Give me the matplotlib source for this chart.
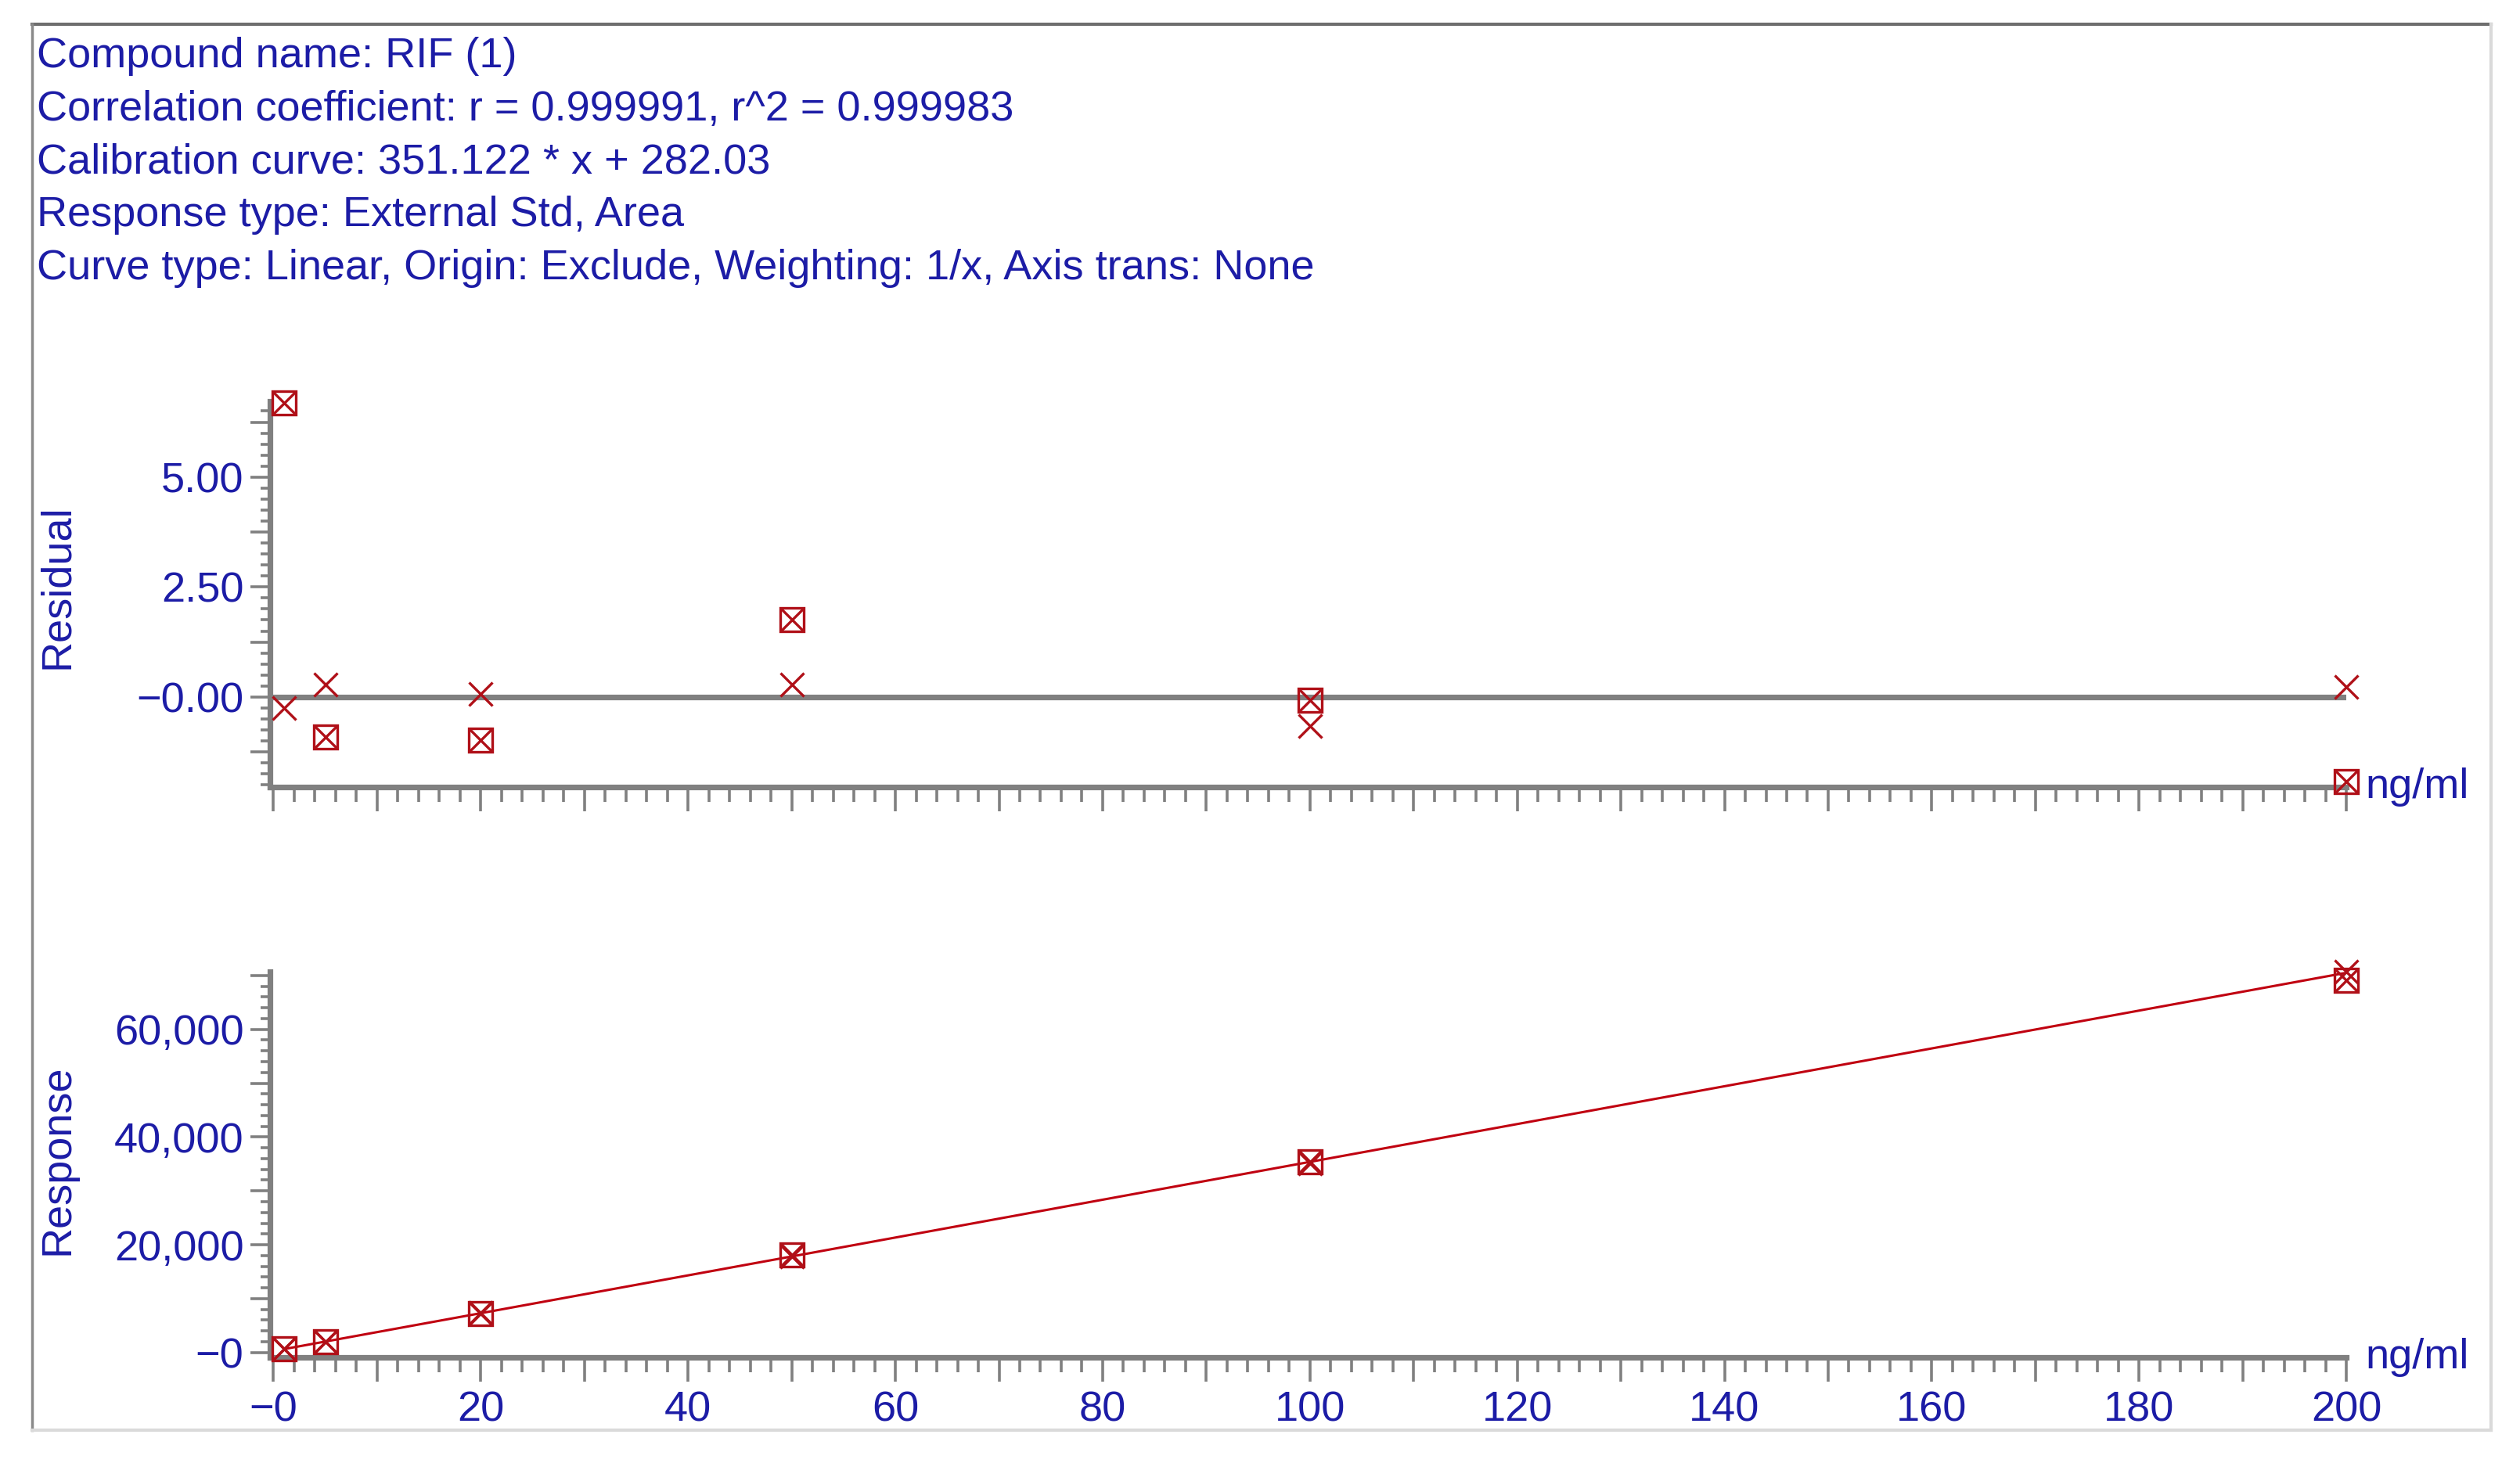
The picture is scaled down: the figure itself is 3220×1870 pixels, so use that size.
import matplotlib
matplotlib.use("Agg")
import matplotlib.pyplot as plt
from matplotlib.lines import Line2D
from matplotlib.ticker import MultipleLocator, FuncFormatter

plt.rcParams['font.family'] = ['Liberation Sans', 'DejaVu Sans']

# header text
header = ["Compound name: RIF (1)",
          "Correlation coefficient: r = 0.999991, r^2 = 0.999983",
          "Calibration curve: 351.122 * x + 282.03",
          "Response type: External Std, Area",
          "Curve type: Linear, Origin: Exclude, Weighting: 1/x, Axis trans: None"]
slope = 351.122
intercept = 282.03

# standards (ng/ml), two injections each
conc = [1, 5, 20, 50, 100, 200]
resid_a = [6.68, -0.91, -0.99, 1.75, -0.07, -1.93]    # boxed-x markers
resid_b = [-0.26, 0.29, 0.07, 0.29, -0.66, 0.22]      # plain x markers
resp_a = [657, 2022, 7235, 18145, 35370, 69151]
resp_b = [632, 2043, 7309, 17889, 35162, 70661]

blue = '#1c1ca6'
red = '#b01018'
gray = '#808080'
fs = 39
ms = 21
mew = 2.4

fig = plt.figure(figsize=(32.2, 18.7), dpi=100)

# sunken panel frame
l, r, b, t = 41/3220, 3183/3220, 1 - 1828/1870, 1 - 31/1870
fig.add_artist(Line2D([l, r], [t, t], color='#6e6e6e', lw=3))
fig.add_artist(Line2D([l, l], [b, t], color='#8a8a8a', lw=2.5))
fig.add_artist(Line2D([r, r], [b, t], color='#dadada', lw=3))
fig.add_artist(Line2D([l, r], [b, b], color='#dadada', lw=3))

for i, s in enumerate(header):
    fig.text(47/3220, 0.9615 - i*0.03625, s, color=blue, fontsize=fs, va='center', ha='left')


def style(ax, labels_x):
    for sp in ['top', 'right']:
        ax.spines[sp].set_visible(False)
    for sp in ['left', 'bottom']:
        ax.spines[sp].set_color(gray)
        ax.spines[sp].set_linewidth(5.2)
    ax.xaxis.set_major_locator(MultipleLocator(10))
    ax.xaxis.set_minor_locator(MultipleLocator(2))
    ax.tick_params(axis='both', which='both', color=gray, width=2.6)
    ax.tick_params(axis='both', which='major', labelcolor=blue, labelsize=fs)
    ax.tick_params(axis='x', which='major', length=22.5, pad=8)
    ax.tick_params(axis='x', which='minor', length=13.5)
    ax.tick_params(axis='y', which='major', length=18, pad=6)
    ax.tick_params(axis='y', which='minor', length=8.5)
    if labels_x:
        ax.xaxis.set_major_formatter(FuncFormatter(
            lambda v, p: ('\u22120' if abs(v) < 1e-9 else '%d' % v) if round(v) % 20 == 0 else ''))
    else:
        ax.xaxis.set_major_formatter(FuncFormatter(lambda v, p: ''))
    ax.set_xlim(-0.35, 200)
    ax.text(1.009, 0.0, 'ng/ml', transform=ax.transAxes, color=blue, fontsize=fs,
            ha='left', va='center')


def markers(ax, ya, yb):
    ax.plot(conc, ya, ls='none', marker='s', ms=ms, mfc='none', mec=red, mew=mew, clip_on=False, zorder=5)
    ax.plot(conc, ya, ls='none', marker='x', ms=ms, mec=red, mew=mew, clip_on=False, zorder=5)
    ax.plot(conc, yb, ls='none', marker='x', ms=ms, mec=red, mew=mew, clip_on=False, zorder=5)


ax1 = fig.add_axes([0.1071, 0.462, 0.824, 0.2636])
style(ax1, False)
ax1.axhline(0, color=gray, lw=5.2, zorder=1)
markers(ax1, resid_a, resid_b)
ax1.set_ylim(-2.05, 6.72)
ax1.yaxis.set_major_locator(MultipleLocator(1.25))
ax1.yaxis.set_minor_locator(MultipleLocator(0.25))
ax1.yaxis.set_major_formatter(FuncFormatter(
    lambda v, p: ('\u22120.00' if abs(v) < 1e-9 else '%.2f' % v) if abs(v / 2.5 - round(v / 2.5)) < 1e-6 and v > -1 else ''))
ax1.set_ylabel('Residual', color=blue, fontsize=fs)
ax1.yaxis.set_label_coords(-0.093, 0.52)

ax2 = fig.add_axes([0.1071, 0.0722, 0.824, 0.2636])
style(ax2, True)
ax2.plot([conc[0], conc[-1]], [slope*conc[0] + intercept, slope*conc[-1] + intercept],
         color='#c00010', lw=2.2, zorder=3)
markers(ax2, resp_a, resp_b)
ax2.set_ylim(-900, 70700)
ax2.yaxis.set_major_locator(MultipleLocator(10000))
ax2.yaxis.set_minor_locator(MultipleLocator(2000))
ax2.yaxis.set_major_formatter(FuncFormatter(
    lambda v, p: ('\u22120' if abs(v) < 1e-9 else '{:,.0f}'.format(v)) if round(v) % 20000 == 0 and v > -1 else ''))
ax2.set_ylabel('Response', color=blue, fontsize=fs)
ax2.yaxis.set_label_coords(-0.093, 0.5125)

fig.savefig('out.png', dpi=100, facecolor='white')
